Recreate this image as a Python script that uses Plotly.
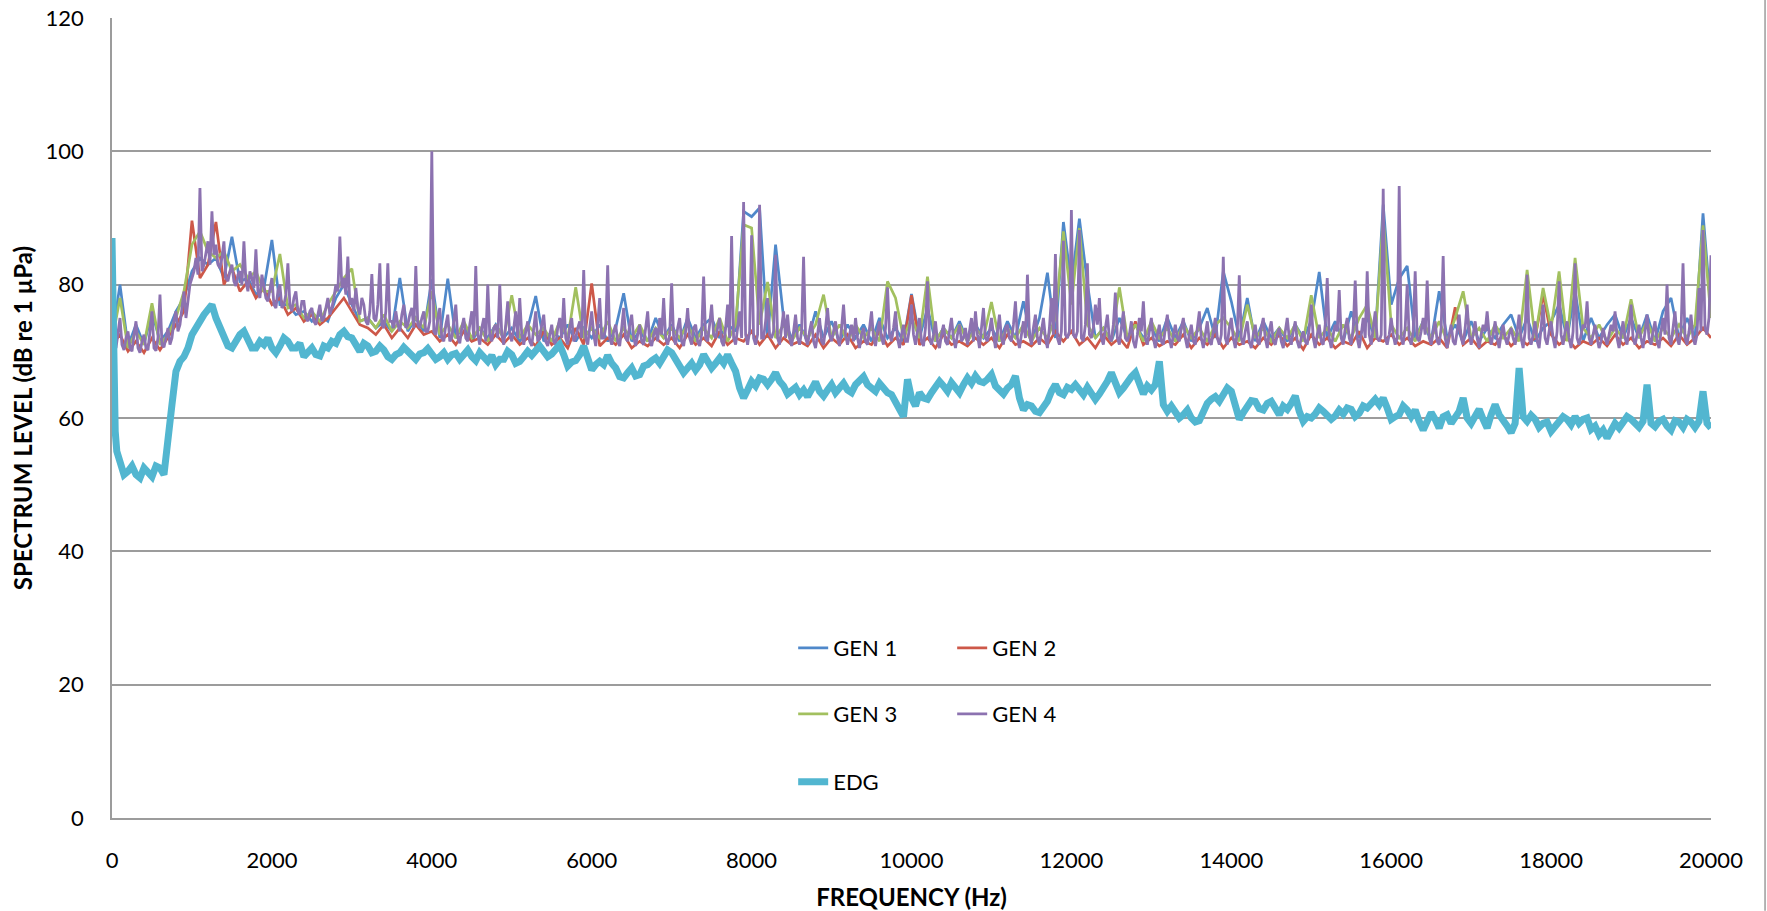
import plotly.graph_objects as go

# ---------------- data ----------------
freq_100 = list(range(0, 20001, 100))   # GEN 1-3 sample frequencies (Hz)
freq_25 = list(range(0, 20001, 25))     # GEN 4 sample frequencies (Hz)
edg_freq = [0, 20, 40, 60] + list(range(100, 20001, 50))

gen1_level = [
    72, 80, 70.8, 74, 71, 75.9, 71.5, 73, 76, 78,
    82, 84, 83, 84, 81, 87.2, 80.5, 81, 78.5, 79.5,
    86.7, 77, 77, 75.5, 76, 74.5, 75.5, 74.5, 78, 80,
    77, 74.5, 75, 73.5, 74.5, 73, 81, 73, 75, 73,
    80.8, 72, 80.9, 72, 74, 71.5, 73.5, 72, 74, 72,
    73.5, 71.5, 73.5, 78.3, 71.5, 73, 72, 74, 71.5, 73.5,
    72, 74, 71.5, 73.5, 78.7, 71.5, 73, 71.5, 75, 72,
    74, 71.5, 75, 72, 74, 75, 72, 74, 73, 91,
    90.2, 91.5, 72, 86, 75, 72, 74, 71.5, 76, 72,
    74.5, 71.5, 74, 72, 74, 71.5, 75, 72, 73.5, 71.5,
    78.6, 72, 76.5, 71.5, 73.5, 72, 74.5, 71.5, 74, 72,
    73.5, 71.5, 74.5, 72, 77.5, 71.5, 75, 81.8, 72, 89.4,
    80, 89.9, 80.2, 72, 73.5, 71.5, 75, 72, 74, 72,
    73.5, 71.5, 75, 72, 74.5, 71.5, 73.5, 76.5, 72, 82,
    77.5, 72, 78, 71.5, 74.5, 72, 73.5, 71.5, 74, 72,
    74.5, 81.9, 72, 74.5, 71.5, 76, 72, 75, 72, 92,
    77, 80.9, 82.8, 72, 74.5, 71.5, 79, 72, 74, 71.5,
    74.5, 71.5, 73.5, 72, 74, 75.5, 72, 75, 71.5, 73.5,
    74.5, 77, 72, 79, 71.5, 75, 72, 74, 75.5, 72,
    75, 72, 75.5, 71.5, 76, 78, 72, 75, 72, 90.7,
    76,
]

gen2_level = [
    71, 72.5, 70, 71.5, 69.8, 72, 70.2, 72, 74, 76,
    89.6, 81, 83, 89.4, 80, 82.5, 79, 80.5, 78, 79.5,
    77, 78, 75.5, 76.5, 74.5, 75.5, 74, 75, 76.5, 78,
    76, 74, 73.5, 72.5, 74, 72, 73.5, 72, 74, 72.5,
    73, 71.5, 72.5, 71, 73, 71.5, 72, 71, 72.5, 71.2,
    72.5, 71, 72, 70.8, 73, 71, 72, 70.5, 73.5, 71,
    80.2, 70.8, 72, 71, 72.5, 70.5, 71.5, 70.8, 72, 71,
    72, 70.5, 72.5, 71, 72, 70.8, 73, 71, 72, 71.5,
    73, 71, 72.5, 70.5, 72, 71, 71.5, 70.8, 72.5, 70.5,
    72, 71, 72.5, 70.5, 71.5, 71, 73, 70.8, 72, 71,
    78.4, 71, 72, 70.5, 72.5, 71, 71.5, 70.8, 72, 71,
    72, 70.5, 72.5, 71, 71.5, 70.8, 72, 71, 73, 71.5,
    73, 71, 72, 70.5, 72.5, 71, 72, 70.5, 74.5, 71,
    72, 70.8, 71.5, 71, 72.5, 70.5, 72, 71, 72.5, 70.5,
    72, 71, 71.5, 70.5, 72, 71, 72.5, 70.8, 72, 70.3,
    72.5, 71, 72, 70.5, 71.5, 71, 73, 70.5, 72, 71.5,
    72.5, 71, 72, 70.8, 71.5, 71, 72, 70.5, 76.6, 71,
    72, 70.5, 71.5, 71, 72.5, 70.8, 72, 71, 72, 78.5,
    72.5, 71, 72, 70.5, 71.5, 71, 72, 70.8, 72.5, 71,
    72, 70.5, 71.5, 71, 72, 70.8, 72.5, 71, 72, 73.5,
    72,
]

gen3_level = [
    71.5, 78, 70.5, 73, 71, 77.2, 71, 72.5, 75, 79,
    86, 88, 85, 84, 85, 82, 83, 81, 82, 79,
    79, 84.6, 76.5, 77, 75, 76, 74.5, 77, 79, 81,
    82.4, 74.5, 75, 73.5, 75.5, 73, 74.5, 73.5, 75, 73.5,
    79, 72.5, 74, 72, 74.5, 72, 73.5, 71.5, 74, 72,
    78.4, 72, 74, 72.5, 73.5, 71.5, 74.5, 72, 79.6, 72,
    73.5, 72, 74.5, 71.5, 73.5, 72, 74, 71.5, 73.5, 72,
    73.5, 72, 74, 71.5, 73.5, 72, 75, 71.5, 74, 89,
    88.5, 74, 80.4, 72, 74, 71.5, 73.5, 72, 74, 78.5,
    72, 74, 71.5, 74, 72, 73.5, 71.5, 80.5, 78, 72,
    75, 72, 81.2, 71.5, 73.5, 72, 74, 71.5, 73.5, 72,
    77.4, 71.5, 73.5, 72, 74, 71.5, 73.5, 72, 75, 88,
    77, 88.5, 74, 72, 73.5, 71.5, 79.6, 72, 74, 71.5,
    74.5, 72, 73.5, 71.5, 74, 72, 73.5, 71.5, 74, 75,
    73.5, 71.5, 77, 72, 73.5, 71.5, 73.5, 72, 74, 71.5,
    78.4, 72, 73.5, 71.5, 74, 72, 75, 77, 72, 90,
    74, 72, 73.5, 71.5, 74.5, 72, 74.5, 71.5, 75, 79,
    72, 73.5, 71.5, 74, 72, 73.5, 71.5, 82.2, 72, 79.5,
    73.5, 82, 71.5, 84, 73.5, 72, 74, 71.5, 73.5, 72,
    77.8, 72, 74.5, 71.5, 73.5, 72, 74, 72, 74, 88.9,
    75,
]

# GEN 4 levels at 0, 50, 100 ... 20000 Hz
gen4_level_even = [
    72, 70.5, 75, 70.2, 73, 70, 74.5, 69.8, 72.5, 70.2, 76, 70.1, 78.5, 70.6, 73.5, 72, 76, 74, 79, 77.5,
    81, 84, 94.5, 83, 86.5, 91, 86, 82.5, 86.5, 80.5, 83, 79.8, 82, 86.5, 79, 81, 85.3, 78, 80, 77.5,
    81, 76.5, 80, 77, 83.2, 76, 79, 75.5, 77.5, 74.5, 76.5, 74, 77, 75, 78, 76.5, 80, 87.2, 81, 84.2,
    78, 79.5, 75.5, 77, 74, 81.6, 74.5, 83.2, 73.5, 83.2, 74.5, 76, 73, 77, 74, 76.5, 82.8, 73.5, 76, 73,
    100, 72.5, 76.5, 71.5, 75.5, 72, 77, 71.2, 75, 71.5, 76, 82.8, 71, 75, 80, 71.5, 74, 80, 71, 77.5,
    71.5, 76, 78, 71, 74.5, 70.8, 76, 72, 75.5, 70.8, 74, 71, 75, 78, 71, 75, 72, 74.5, 82.2, 71,
    76, 70.8, 78, 72, 82.9, 71, 74, 70.8, 76.5, 71.5, 75.5, 70.8, 74, 71, 76, 70.8, 73.5, 75, 78, 71,
    80.2, 71, 75, 70.8, 76.5, 71, 74, 70.8, 81.2, 71.5, 77, 72, 75, 70.8, 77, 87.3, 71, 76, 92.4, 71,
    87.4, 71, 92, 72, 78, 72, 84.5, 71, 76, 75.5, 70.8, 75.5, 71, 84.2, 71, 74.5, 70.5, 75, 71, 76.5,
    71.5, 74.5, 70.8, 77, 71, 74, 75, 70.5, 73.5, 71, 76, 70.8, 74.5, 71, 79.6, 71.5, 76, 70.5, 74, 71.5,
    77, 71, 75, 70.8, 80.5, 71, 74.5, 70.5, 74, 71, 75, 70.5, 74, 72, 71, 75, 76, 70.5, 76.5, 71.5,
    75, 70.5, 75.5, 71, 74, 71.5, 77.5, 70.5, 74.5, 81.5, 71, 75.5, 71, 75, 70.5, 78, 84.6, 71, 86.6, 72,
    91.2, 72, 88.2, 71.5, 83.2, 72, 77, 78, 71, 75.5, 71.5, 78.8, 71, 76, 71.5, 74.5, 70.5, 75, 77.5, 71,
    75, 70.5, 74, 71, 75.5, 70.5, 74, 71.5, 75, 70.5, 74, 71, 76, 70.5, 74.5, 71, 75, 71, 84.2, 71,
    75, 70.5, 81.4, 71, 74.5, 70.5, 74, 71, 75, 70.5, 74.5, 71, 73.5, 70.5, 75, 71, 74.5, 70.5, 73, 71,
    77, 70.5, 74, 71, 81, 70.5, 74, 79.2, 71, 75, 71, 80.6, 70.5, 75, 82, 71, 76, 71.5, 94.4, 71,
    75, 71, 94.8, 71, 80, 71, 82, 71.5, 75, 80.6, 71, 74.5, 71, 84.3, 70.5, 74, 71, 75.5, 71, 77,
    71, 74.5, 70.5, 74, 76, 71, 74.5, 70.5, 74, 71, 73.5, 71, 75.5, 70.5, 81.5, 71, 74.5, 70.5, 77, 71,
    74.5, 70.5, 80.5, 71, 74.5, 70.5, 83.2, 71, 74, 77.5, 71, 74, 70.5, 73.5, 71, 74, 76, 70.5, 74.5, 71,
    77, 71, 74, 70.5, 75.5, 71, 74.5, 70.5, 75, 80, 71, 76, 71, 83.2, 71, 75.5, 71, 79.5, 88.2, 72.5,
    84.4,
]
# GEN 4 levels at 25, 75, 125 ... 19975 Hz
gen4_level_odd = [
    71, 73, 71, 72, 70.5, 72.5, 70.5, 71.5, 70.5, 73, 70.5, 72, 71, 72, 71, 74.5, 73, 76.5, 75, 80,
    82, 81.5, 82, 85, 83, 84.5, 83, 84, 81, 82, 80.5, 81.5, 80, 80.5, 82, 79.5, 79, 81.5, 78, 79,
    77, 79, 76.5, 78.5, 77, 78, 76, 77.5, 75, 76, 74.5, 75.5, 74.5, 76.5, 75.5, 78, 79, 79.5, 78.5, 77,
    76, 76.5, 78, 74.5, 76, 75, 77, 74, 76, 74.5, 73.5, 74, 75.5, 73.5, 75.5, 73.5, 74, 75, 73, 74.5,
    73, 75, 72, 74, 71.5, 74.5, 72, 73.5, 72, 74, 72, 72.5, 73.5, 71.5, 72.5, 73.5, 72, 72.5, 74, 72.5,
    73.5, 72, 72.5, 73, 71.5, 73.5, 71.5, 74, 71.5, 72.5, 71.5, 73.5, 72, 72, 73.5, 71.5, 73.5, 72, 72, 73.5,
    72.5, 74, 72, 73.5, 72, 73, 71.5, 73.5, 72, 74, 72, 72.5, 71.5, 73.5, 71.5, 72.5, 71.5, 72.5, 72, 72.5,
    72, 73.5, 71.5, 73, 72, 73.5, 71.5, 72.5, 72, 74, 72.5, 73.5, 71.5, 73.5, 72, 72, 73.5, 72, 72.5, 73,
    72, 72.5, 72, 74.5, 72.5, 73, 72, 73.5, 72, 72, 73, 72, 73, 72, 73, 71.5, 72.5, 71.5, 73.5, 72.5,
    73, 72, 73.5, 72.5, 72.5, 71.5, 72, 72.5, 71.5, 73.5, 72, 73, 72, 73.5, 72.5, 73.5, 72, 72.5, 71.5, 73.5,
    72.5, 73, 71.5, 73.5, 72, 72.5, 71.5, 72.5, 71.5, 73, 72, 72.5, 71.5, 73.5, 73, 71.5, 72.5, 73.5, 72, 73,
    72.5, 73, 72, 73.5, 72, 74, 72, 72.5, 72, 72.5, 73.5, 72, 73, 72, 73.5, 72.5, 72, 73, 72.5, 73,
    72.5, 73, 72, 74, 72.5, 73.5, 74, 72, 73.5, 72, 74, 72, 73.5, 72, 72.5, 71.5, 72.5, 73, 72, 73,
    72, 72.5, 71.5, 73.5, 72, 72.5, 72, 73.5, 72, 72.5, 71.5, 73.5, 72, 72.5, 71.5, 73, 72, 72.5, 72, 73.5,
    72, 73, 72, 73, 71.5, 72.5, 71.5, 73.5, 72, 73, 71.5, 72.5, 71.5, 73, 72, 73, 71.5, 72, 71.5, 73.5,
    72, 72.5, 71.5, 74, 72, 72.5, 73, 72, 73.5, 72, 73.5, 72, 72.5, 72, 72.5, 73.5, 72, 72.5, 72, 72.5,
    72.5, 72, 72, 73.5, 72, 73, 72, 73, 72.5, 72, 73, 71.5, 73.5, 72, 72.5, 71.5, 73, 72, 73.5, 72.5,
    72.5, 72, 72.5, 73, 72.5, 72.5, 72, 72.5, 72, 72.5, 72, 73, 72, 73, 72, 72.5, 71.5, 73.5, 72, 73,
    72, 73, 72.5, 73, 72, 73, 72, 72.5, 73.5, 72, 72.5, 72, 71.5, 72, 72.5, 73, 72, 72.5, 72, 73.5,
    72, 72.5, 72, 73, 72, 73, 71.5, 73, 72.5, 72, 73.5, 72, 73, 72, 73, 72, 72.5, 73, 73.5, 75,
]

edg_head = [87, 66, 58, 55]  # 0, 20, 40, 60 Hz
# EDG levels at 100, 200 ... 20000 Hz
edg_level_main = [
    53, 52, 51.5, 52.5, 51.2, 52.5, 56, 67, 69.2, 72.5,
    74.5, 76.5, 75, 72, 70.5, 72.5, 71.5, 70.5, 71, 70.5,
    70.8, 71.5, 70.5, 69.2, 70.5, 69.3, 70.5, 71.2, 73, 72,
    70, 70.8, 70, 70.2, 68.8, 69.8, 70, 68.8, 69.8, 69.5,
    69.2, 68.8, 69.7, 69.5, 69.2, 69.8, 68.5, 68, 68.8, 69.5,
    68.5, 70, 70.2, 70, 69.6, 71, 67.8, 68.6, 70.8, 67.2,
    68.5, 69.4, 67.5, 66, 67.5, 66.5, 68, 69, 69.5, 69.8,
    68, 67.5, 67.2, 69.5, 67.5, 69, 69.5, 67, 63, 65.5,
    66, 65, 66.8, 64.8, 64, 63.5, 63.2, 65.4, 63.3, 65,
    64.5, 64.2, 65, 66.2, 64.5, 65.2, 63.8, 62.5, 60.2, 63,
    63.8, 62.8, 64.5, 64.8, 65.3, 63.8, 66, 66.3, 65.3, 66.5,
    64.2, 64.5, 66.3, 61.2, 61.8, 60.8, 62.5, 65, 63.5, 64.3,
    64, 64.6, 62.8, 64.5, 66.8, 63.8, 65.5, 66.8, 63.6, 64.2,
    68.5, 61, 60.8, 60.5, 60, 59.6, 62.2, 63.2, 63.8, 64,
    59.8, 61.5, 62.5, 61.2, 62.5, 60.5, 61.3, 63.3, 59.5, 60,
    61.5, 60.5, 60.3, 60.6, 61.3, 60.7, 61.5, 62.8, 63, 59.8,
    60.5, 61.2, 61.2, 58.2, 60.8, 58.5, 60.5, 60, 63, 59.2,
    61.3, 58.5, 62, 59.8, 57.8, 67.5, 59.5, 59.8, 59.2, 58,
    59.3, 59.8, 60.2, 59.8, 58.3, 57.5, 57, 59.2, 59.5, 59.8,
    58.6, 65, 58.7, 59.8, 58.2, 59.4, 59.8, 58.6, 64, 58.5,
]
# EDG levels at 150, 250 ... 19950 Hz
edg_level_mid = [
    51.5, 52.8, 51, 51.8, 52.8, 51.5, 62, 68.5, 70.5, 73.8,
    75.5, 77, 73.5, 70.8, 71.8, 73, 70.5, 71.5, 72, 69.8,
    72, 70.5, 71.2, 70, 69.5, 70.8, 71.5, 72.5, 72.2, 71,
    71.2, 69.8, 70.8, 69.2, 69.5, 70.6, 69.2, 69.6, 70.4, 68.8,
    69.8, 69.5, 68.8, 70.2, 68.6, 69, 69.4, 68.8, 70, 68.2,
    69.2, 69.4, 70.8, 69.2, 70.5, 69.5, 68.4, 69.5, 69, 68,
    68, 68.2, 66.2, 66.8, 66.3, 67.8, 68.6, 68.2, 70.2, 68.8,
    66.8, 68.2, 68, 68.4, 68.2, 68.2, 68.2, 64.5, 64.2, 64.8,
    65.8, 65.8, 65.5, 63.6, 64.6, 64.2, 64.5, 64, 64.2, 63.8,
    65.2, 63.8, 65.8, 65, 64, 64.4, 63.5, 61.5, 65.8, 61.8,
    63, 63.8, 65.5, 64, 64.5, 65, 65.2, 65.5, 65.8, 64.8,
    63.6, 65, 63, 62, 61, 61.6, 64, 63.8, 64.6, 65,
    63.5, 63.8, 63.6, 65.5, 65.2, 64.5, 66.2, 64.8, 64.8, 65,
    62, 61.8, 60, 61.2, 59.4, 61, 62.8, 62.5, 64.5, 61.5,
    60.8, 62.6, 61.4, 62.2, 61.5, 61.8, 62.2, 61, 60.2, 60.6,
    61, 59.8, 61.2, 61.5, 60.2, 61.8, 62.3, 62, 61.5, 60.2,
    61.8, 60.2, 59.5, 59.5, 59.8, 60.2, 59.2, 61, 60, 60.2,
    59.8, 60.5, 60.5, 58.8, 59.2, 60.2, 60.4, 58.6, 59.4, 58.8,
    60.2, 59, 59.2, 60, 58.8, 58.2, 58.3, 58.5, 60.2, 59.2,
    59.5, 59.2, 59.5, 58.8, 59.6, 58.6, 59.4, 59.5, 59.2,
]

x_ticks = [0, 2000, 4000, 6000, 8000, 10000, 12000, 14000, 16000, 18000, 20000]
y_ticks = [0, 20, 40, 60, 80, 100, 120]


def interleave(a, b):
    out = []
    for i, v in enumerate(a):
        out.append(v)
        if i < len(b):
            out.append(b[i])
    return out


gen4_level = interleave(gen4_level_even, gen4_level_odd)
edg_level = edg_head + interleave(edg_level_main, edg_level_mid)

assert len(gen1_level) == len(freq_100)
assert len(gen2_level) == len(freq_100)
assert len(gen3_level) == len(freq_100)
assert len(gen4_level_odd) == len(gen4_level_even) - 1
assert len(gen4_level) == len(freq_25)
assert len(edg_level_mid) == len(edg_level_main) - 1
assert len(edg_level) == len(edg_freq)

# ---------------- figure ----------------
FONT = "Lato, 'Open Sans', sans-serif"
GRID = "#9c9c9c"

fig = go.Figure()
series = [
    ("GEN 1", freq_100, gen1_level, "#4F88CA", 2.7, "legend"),
    ("GEN 2", freq_100, gen2_level, "#CD5849", 2.7, "legend"),
    ("GEN 3", freq_100, gen3_level, "#A2C05F", 2.7, "legend2"),
    ("GEN 4", freq_25, gen4_level, "#8C72B0", 2.8, "legend2"),
    ("EDG", edg_freq, edg_level, "#52B6D0", 7, "legend3"),
]
for name, xs, ys, color, width, leg in series:
    fig.add_trace(go.Scatter(
        x=xs, y=ys, name=name, mode="lines",
        line=dict(color=color, width=width),
        legend=leg,
    ))

legend_common = dict(
    orientation="h", xanchor="left", yanchor="middle",
    font=dict(family=FONT, size=22, color="#000000"),
    bgcolor="rgba(0,0,0,0)", entrywidth=114, entrywidthmode="pixels",
    itemclick=False, itemdoubleclick=False,
)

LEG_X = 0.426

fig.update_layout(
    width=1767, height=911,
    margin=dict(l=112, r=56, t=18, b=93, autoexpand=False),
    paper_bgcolor="white", plot_bgcolor="white",
    font=dict(family=FONT, size=22, color="#000000"),
    showlegend=True,
    legend=dict(x=LEG_X, y=0.2125, **legend_common),
    legend2=dict(x=LEG_X, y=0.13, **legend_common),
    legend3=dict(x=LEG_X, y=0.045, **legend_common),
    xaxis=dict(
        range=[0, 20000], tickvals=x_ticks, ticktext=[str(v) for v in x_ticks],
        showgrid=False, zeroline=False, showline=True, linecolor=GRID, linewidth=1.5,
        ticks="", ticklabelstandoff=22, automargin=False,
        tickfont=dict(family=FONT, size=22, color="#000000"),
        title=dict(text="<b>FREQUENCY (Hz)</b>", standoff=17,
                   font=dict(family=FONT, size=24, color="#000000")),
    ),
    yaxis=dict(
        range=[0, 120], tickvals=y_ticks,
        showgrid=True, gridcolor=GRID, gridwidth=1.5,
        zeroline=False, showline=True, linecolor=GRID, linewidth=1.5,
        ticks="", ticklabelstandoff=22, automargin=False,
        tickfont=dict(family=FONT, size=22, color="#000000"),
        title=dict(text="<b>SPECTRUM LEVEL (dB re 1 µPa)</b>", standoff=6,
                   font=dict(family=FONT, size=24, color="#000000")),
    ),
    shapes=[dict(type="line", xref="paper", yref="paper",
                 x0=1.0338, x1=1.0338, y0=-0.116, y1=1.0225,
                 line=dict(color=GRID, width=1.5))],
)

fig.write_html(
    "out.html",
    config={"displayModeBar": False},
    post_script="document.body.style.margin='0px';document.body.style.overflow='hidden';",
)
